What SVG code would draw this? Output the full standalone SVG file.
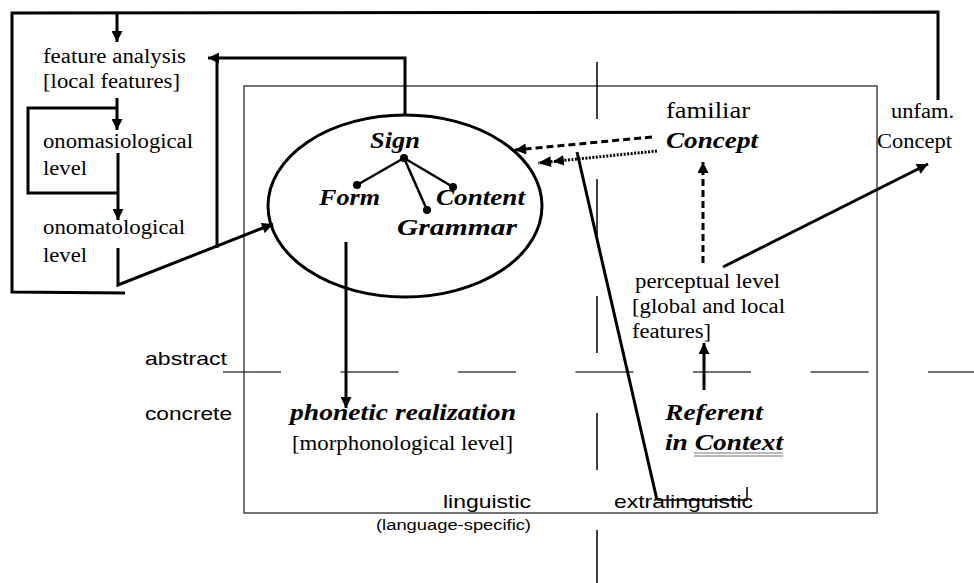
<svg xmlns="http://www.w3.org/2000/svg" width="974" height="583" viewBox="0 0 974 583">
<style>
.ln{fill:none;stroke:#000;stroke-width:3}
.thin{fill:none;stroke:#000;stroke-width:1.5}
</style>
<defs>
<marker id="ah" viewBox="0 0 10 10" refX="10" refY="5" markerWidth="12" markerHeight="11" markerUnits="userSpaceOnUse" orient="auto">
<path d="M0,0 L10,5 L0,10 z" fill="#000"/>
</marker>
<marker id="ah2" viewBox="0 0 24 10" refX="24" refY="5" markerWidth="26" markerHeight="11" markerUnits="userSpaceOnUse" orient="auto">
<path d="M0,0 L10,5 L0,10 z M12,0 L24,5 L12,10 z" fill="#000"/>
</marker>
</defs>
<rect width="974" height="583" fill="#fff"/>

<g id="frame">
<rect x="244" y="86" width="633" height="427" fill="none" stroke="#444" stroke-width="1.5"/>
<line x1="223" y1="372" x2="974" y2="372" stroke="#444" stroke-width="1.5" stroke-dasharray="58 59.5"/>
<line x1="597" y1="62" x2="597" y2="583" stroke="#000" stroke-width="1.5" stroke-dasharray="57 60"/>
</g>

<g id="connectors">
<path class="ln" d="M125,293 L12,292 L12,13 L938,12 L938,100"/>
<line class="ln" x1="117" y1="13" x2="117" y2="42" marker-end="url(#ah)"/>
<line class="ln" x1="117" y1="98" x2="117" y2="130" marker-end="url(#ah)"/>
<path class="ln" stroke-width="2.5" d="M117,108 L28,108 L28,193 L117,193"/>
<line class="ln" x1="118" y1="153" x2="118" y2="220" marker-end="url(#ah)"/>
<path class="ln" d="M118,248 L118,285 L273,224" marker-end="url(#ah)"/>
<path class="ln" d="M405,116 L405,58 L208,58" marker-end="url(#ah)"/>
<line class="ln" x1="217" y1="58" x2="217" y2="248"/>
<line class="ln" x1="346" y1="242" x2="346" y2="408" marker-end="url(#ah)"/>
<line class="ln" x1="652" y1="137" x2="515" y2="150" stroke-dasharray="7 4" marker-end="url(#ah)"/>
<line class="ln" x1="657" y1="151" x2="538" y2="163" stroke-width="2.5" stroke-dasharray="2 1.5" marker-end="url(#ah2)"/>
<path class="ln" stroke-width="2.5" d="M657,500 L577,152"/>
<path class="thin" d="M747,487 L747,500 L657,500"/>
<line class="ln" x1="703" y1="263" x2="703" y2="162" stroke-dasharray="7 4" marker-end="url(#ah)"/>
<line class="ln" x1="723" y1="267" x2="928" y2="164" marker-end="url(#ah)"/>
<line class="ln" x1="704" y1="390" x2="704" y2="343" marker-end="url(#ah)"/>
</g>

<g id="sign" font-family="'Liberation Serif', 'DejaVu Serif', serif" font-weight="bold" font-style="italic" font-size="24" fill="#000">
<ellipse cx="405" cy="206" rx="137" ry="91" fill="none" stroke="#000" stroke-width="3"/>
<g stroke="#000" stroke-width="2.5">
<line x1="404" y1="158" x2="357" y2="185"/>
<line x1="404" y1="158" x2="453" y2="187"/>
<line x1="404" y1="158" x2="427" y2="210"/>
</g>
<circle cx="404" cy="158" r="4"/>
<circle cx="357" cy="185" r="4"/>
<circle cx="453" cy="187" r="4"/>
<circle cx="427" cy="210" r="4"/>
<text x="370" y="148" textLength="50" lengthAdjust="spacingAndGlyphs">Sign</text>
<text x="319" y="205" textLength="61" lengthAdjust="spacingAndGlyphs">Form</text>
<text x="436" y="205" textLength="89" lengthAdjust="spacingAndGlyphs">Content</text>
<text x="397" y="235" textLength="120" lengthAdjust="spacingAndGlyphs">Grammar</text>
</g>

<g id="feature-analysis" font-family="'Liberation Serif', 'DejaVu Serif', serif" font-size="20" fill="#000">
<text x="43" y="63" textLength="143" lengthAdjust="spacingAndGlyphs">feature analysis</text>
<text x="43" y="88" textLength="137" lengthAdjust="spacingAndGlyphs">[local features]</text>
</g>
<g id="onomasiological" font-family="'Liberation Serif', 'DejaVu Serif', serif" font-size="20" fill="#000">
<text x="43" y="148" textLength="150" lengthAdjust="spacingAndGlyphs">onomasiological</text>
<text x="43" y="175" textLength="44" lengthAdjust="spacingAndGlyphs">level</text>
</g>
<g id="onomatological" font-family="'Liberation Serif', 'DejaVu Serif', serif" font-size="20" fill="#000">
<text x="43" y="234" textLength="142" lengthAdjust="spacingAndGlyphs">onomatological</text>
<text x="43" y="262" textLength="44" lengthAdjust="spacingAndGlyphs">level</text>
</g>
<g id="familiar-concept" font-family="'Liberation Serif', 'DejaVu Serif', serif" fill="#000">
<text x="666" y="118" font-size="23" textLength="84" lengthAdjust="spacingAndGlyphs">familiar</text>
<text x="666" y="148" font-size="24" font-weight="bold" font-style="italic" textLength="92" lengthAdjust="spacingAndGlyphs">Concept</text>
</g>
<g id="unfam-concept" font-family="'Liberation Serif', 'DejaVu Serif', serif" font-size="20" fill="#000">
<text x="891" y="118" textLength="63" lengthAdjust="spacingAndGlyphs">unfam.</text>
<text x="877" y="148" textLength="75" lengthAdjust="spacingAndGlyphs">Concept</text>
</g>
<g id="perceptual-level" font-family="'Liberation Serif', 'DejaVu Serif', serif" font-size="20" fill="#000">
<text x="635" y="288" textLength="145" lengthAdjust="spacingAndGlyphs">perceptual level</text>
<text x="632" y="313" textLength="153" lengthAdjust="spacingAndGlyphs">[global and local</text>
<text x="632" y="338" textLength="79" lengthAdjust="spacingAndGlyphs">features]</text>
</g>
<g id="phonetic-realization" font-family="'Liberation Serif', 'DejaVu Serif', serif" fill="#000">
<text x="290" y="420" font-size="24" font-weight="bold" font-style="italic" textLength="226" lengthAdjust="spacingAndGlyphs">phonetic realization</text>
<text x="292" y="450" font-size="20" textLength="221" lengthAdjust="spacingAndGlyphs">[morphonological level]</text>
</g>
<g id="referent" font-family="'Liberation Serif', 'DejaVu Serif', serif" font-size="24" font-weight="bold" font-style="italic" fill="#000">
<text x="665" y="420" textLength="98" lengthAdjust="spacingAndGlyphs">Referent</text>
<text x="665" y="450" textLength="118" lengthAdjust="spacingAndGlyphs">in Context</text>
<line x1="694" y1="453" x2="783" y2="453" stroke="#777" stroke-width="1.2"/>
<line x1="694" y1="456" x2="783" y2="456" stroke="#777" stroke-width="1.2"/>
</g>
<g id="labels" font-family="'Liberation Sans', Arial, sans-serif" font-size="19" fill="#000">
<text x="145" y="365" textLength="82" lengthAdjust="spacingAndGlyphs">abstract</text>
<text x="145" y="420" textLength="87" lengthAdjust="spacingAndGlyphs">concrete</text>
<text x="443" y="508" textLength="88" lengthAdjust="spacingAndGlyphs">linguistic</text>
<text x="376" y="530" font-size="14" textLength="155" lengthAdjust="spacingAndGlyphs">(language-specific)</text>
<text x="614" y="508" textLength="139" lengthAdjust="spacingAndGlyphs">extralinguistic</text>
</g>
</svg>
